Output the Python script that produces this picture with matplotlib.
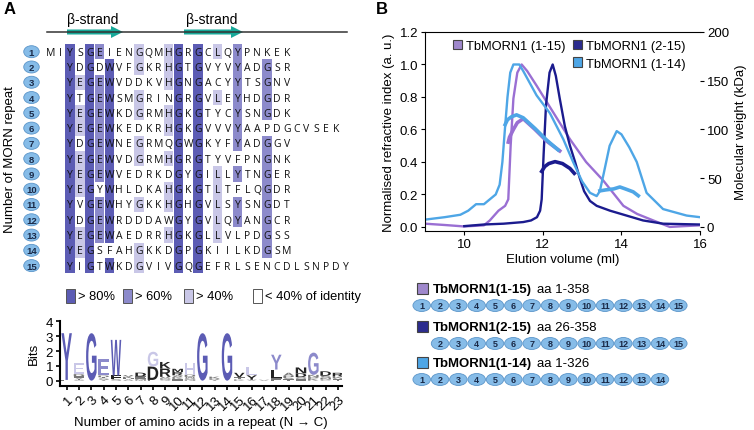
import matplotlib
matplotlib.use('Agg')
import matplotlib.pyplot as plt
from matplotlib.patches import Rectangle, Ellipse, FancyArrow, PathPatch, Patch
from matplotlib.textpath import TextPath
from matplotlib.font_manager import FontProperties
from matplotlib.transforms import Affine2D
from collections import Counter

plt.rcParams['font.family'] = ['Liberation Sans', 'DejaVu Sans']

# --- panel A: MORN repeats (column 1 = the conserved Y) ---
lead = ['MI'] + [''] * 14
repeats = ['YSGEIENGQMHGRGCLQYPNKEK',
           'YDGDWVFGKRHGTGVYVYADGSR',
           'YEGEWVDDKVHGNGACYYTSGNV',
           'YTGEWSMGRINGRGVLEYHDGDR',
           'YEGEWKDGRMHGKGTYCYSNGDK',
           'YEGEWKEDKRHGKGVVVYAAPDGCVSEK',
           'YDGEWNEGRMQGWGKYFYADGGV',
           'YEGEWVDGRMHGRGTYVFPNGNK',
           'YEGEWVEDRKDGYGILLYTNGER',
           'YEGYWHLDKAHGKGTLTFLQGDR',
           'YVGEWHYGKKHGHGVLSYSNGDT',
           'YDGEWRDDDAWGYGVLQYANGCR',
           'YEGEWAEDRRHGKGLLVLPDGSS',
           'YEGSFAHGKKDGPGKIILKDGSM',
           'YIGTWKDGVIVGQGEFRLSENCDLSNPDY']
n_cols = 23
id_levels = [0.8, 0.6, 0.4]
id_colors = ['#5c5cb4', '#8c8acb', '#c9c7e7']
id_labels = ['> 80%', '> 60%', '> 40%', '< 40% of identity']

# --- sequence logo (letters stacked bottom -> top, height in bits) ---
logo = [
    [('E', 0.05), ('Y', 3.15)],
    [('S', 0.06), ('T', 0.07), ('V', 0.08), ('I', 0.08), ('D', 0.15), ('E', 0.75)],
    [('G', 3.2)],
    [('Y', 0.07), ('S', 0.08), ('T', 0.08), ('D', 0.12), ('E', 1.1)],
    [('S', 0.1), ('F', 0.25), ('W', 2.4)],
    [('A', 0.08), ('H', 0.08), ('K', 0.1), ('V', 0.12)],
    [('M', 0.07), ('N', 0.07), ('E', 0.15), ('D', 0.25)],
    [('E', 0.05), ('D', 0.9), ('G', 1.0)],
    [('Q', 0.08), ('D', 0.08), ('V', 0.1), ('R', 0.55), ('K', 0.45)],
    [('I', 0.12), ('K', 0.12), ('A', 0.12), ('R', 0.22), ('M', 0.22)],
    [('N', 0.08), ('Q', 0.08), ('W', 0.1), ('D', 0.15), ('H', 0.75)],
    [('G', 3.2)],
    [('Y', 0.07), ('R', 0.08), ('K', 0.12)],
    [('G', 3.2)],
    [('K', 0.08), ('T', 0.15), ('V', 0.3)],
    [('V', 0.06), ('Y', 0.3), ('L', 0.55)],
    [('V', 0.06)],
    [('F', 0.15), ('L', 0.6), ('Y', 1.0)],
    [('T', 0.08), ('S', 0.1), ('P', 0.15), ('A', 0.2)],
    [('E', 0.08), ('Q', 0.08), ('S', 0.08), ('D', 0.25), ('N', 0.4)],
    [('K', 0.12), ('P', 0.12), ('N', 0.15), ('G', 1.5)],
    [('C', 0.08), ('N', 0.1), ('S', 0.15), ('D', 0.3)],
    [('T', 0.08), ('V', 0.08), ('K', 0.12), ('R', 0.25)],
]

# --- panel B: SEC-MALS traces ---
x_115 = [9.0, 9.5, 10.0, 10.5, 10.65, 10.87, 11.04, 11.12, 11.18, 11.25, 11.35, 11.46,
         11.6, 11.84, 12.2, 12.69, 13.1, 13.54, 14.05, 14.4, 14.81, 15.23, 15.6, 16.0]
ri_115 = [0.02, 0.012, 0.003, 0.01, 0.04, 0.1, 0.13, 0.17, 0.5, 0.79, 0.95, 1.0,
          0.96, 0.87, 0.73, 0.54, 0.4, 0.285, 0.13, 0.08, 0.04, 0.0, 0.005, 0.01]
mwx_115 = [11.12, 11.15, 11.25, 11.35, 11.5, 11.8, 12.1, 12.43]
mw_115 = [87, 92, 100, 107, 111, 100, 88, 78]

x_215 = [10.0, 10.5, 11.0, 11.5, 11.7, 11.85, 11.93, 11.97, 12.02, 12.08, 12.17, 12.25,
         12.33, 12.43, 12.56, 12.69, 12.82, 12.94, 13.05, 13.2, 13.37, 13.71, 14.13,
         14.55, 15.06, 16.0]
ri_215 = [0.005, 0.015, 0.02, 0.03, 0.04, 0.06, 0.1, 0.17, 0.45, 0.75, 0.95, 1.0,
          0.93, 0.79, 0.62, 0.5, 0.4, 0.3, 0.22, 0.16, 0.13, 0.1, 0.07,
          0.04, 0.02, 0.015]
mwx_215 = [11.97, 12.05, 12.15, 12.31, 12.5, 12.69, 12.8]
mw_215 = [57, 62, 65, 67, 65, 60, 55]

x_114 = [9.0, 9.5, 9.9, 10.1, 10.3, 10.5, 10.65, 10.8, 10.9, 10.97, 11.04, 11.1, 11.17,
         11.25, 11.4, 11.5, 11.84, 12.18, 12.52, 12.77, 13.0, 13.2, 13.37, 13.45, 13.55,
         13.7, 13.88, 14.0, 14.2, 14.39, 14.64, 15.06, 15.66, 16.0]
ri_114 = [0.045, 0.06, 0.075, 0.1, 0.14, 0.14, 0.17, 0.2, 0.26, 0.4, 0.62, 0.8, 0.95,
          1.0, 1.0, 0.96, 0.81, 0.7, 0.54, 0.4, 0.28, 0.21, 0.19, 0.22, 0.33,
          0.5, 0.59, 0.57, 0.49, 0.4, 0.21, 0.11, 0.07, 0.06]
mwx_114a = [11.04, 11.1, 11.2, 11.33, 11.5, 11.8, 12.1, 12.39]
mw_114a = [105, 110, 113, 115, 112, 101, 89, 79]
mwx_114b = [13.45, 13.6, 13.8, 13.96, 14.1, 14.3, 14.43]
mw_114b = [37, 38, 39, 41, 39, 36, 32]

constructs = ['TbMORN1(1-15)', 'TbMORN1(2-15)', 'TbMORN1(1-14)']
legend_names = ['TbMORN1 (1-15)', 'TbMORN1 (2-15)', 'TbMORN1 (1-14)']
aa_ranges = ['aa 1-358', 'aa 26-358', 'aa 1-326']
morn_first = [1, 2, 1]
morn_last = [15, 15, 14]
c_115, c_215, c_114 = '#9a6fd3', '#1b1b8e', '#4ea6e6'
swatch_cols = ['#9f88cc', '#2c2c8e', '#4ea6e6']

W, H = 754, 431
fig = plt.figure(figsize=(W / 100, H / 100), dpi=100)


def frac(l, t, r, b):
    return [l / W, 1 - b / H, (r - l) / W, (b - t) / H]


# ---------- SEC-MALS plot ----------
ax = fig.add_axes(frac(425, 33, 700, 232))
ax.plot(x_115, ri_115, color=c_115, lw=1.7)
ax.plot(x_215, ri_215, color=c_215, lw=1.7)
ax.plot(x_114, ri_114, color=c_114, lw=1.7)
ax.set_xlim(9, 16)
ax.set_ylim(-0.025, 1.2)
ax.set_xticks([10, 12, 14, 16])
ax.set_yticks([0, 0.2, 0.4, 0.6, 0.8, 1.0, 1.2])
ax.set_yticklabels(['%.1f' % v for v in [0, 0.2, 0.4, 0.6, 0.8, 1.0, 1.2]])
ax.tick_params(labelsize=9.5, length=3, width=0.8, pad=2)
ax.spines['right'].set_visible(False)
ax.set_xlabel('Elution volume (ml)', fontsize=9.5, labelpad=2)
ax.set_ylabel('Normalised refractive index (a. u.)', fontsize=9.5, labelpad=3)
ax2 = ax.twinx()
ax2.plot(mwx_115, mw_115, color=c_115, lw=2.6)
ax2.plot(mwx_215, mw_215, color=c_215, lw=2.6)
ax2.plot(mwx_114a, mw_114a, color=c_114, lw=2.6)
ax2.plot(mwx_114b, mw_114b, color=c_114, lw=2.6)
ax2.set_ylim(-0.025 * 200 / 1.2, 200)
ax2.set_yticks([0, 50, 100, 150, 200])
ax2.tick_params(labelsize=9.5, length=3, width=0.8, pad=2)
for s in ['right', 'left', 'top', 'bottom']:
    ax2.spines[s].set_visible(False)
ax2.set_ylabel('Molecular weight (kDa)', fontsize=9.5, labelpad=4)
hd = [Patch(facecolor=c, edgecolor='#444444', lw=0.8) for c in swatch_cols]
blank = Patch(facecolor='none', edgecolor='none')
ax.legend([hd[0], blank, hd[1], hd[2]], [legend_names[0], '', legend_names[1], legend_names[2]],
          ncol=2, frameon=False, fontsize=9.3, handlelength=0.7, handleheight=0.7,
          handletextpad=0.3, columnspacing=0.6, labelspacing=0.45,
          loc='upper right', bbox_to_anchor=(0.99, 1.02))

# ---------- sequence logo ----------
axl = fig.add_axes(frac(60, 321.6, 341.7, 387))
axl.set_xlim(0.46, 23.3)
axl.set_ylim(-0.36, 4.05)

# identity class per column, from the repeats
col_class = []
col_top = []
for c in range(n_cols):
    res = [r[c] for r in repeats]
    top, cnt = Counter(res).most_common(1)[0]
    f = cnt / len(repeats)
    k = next((i for i, lv in enumerate(id_levels) if f > lv), None)
    col_class.append(k)
    col_top.append(top)

fp = FontProperties(family='Liberation Sans', weight='bold')
for c, stack in enumerate(logo):
    y0 = 0.0
    for ch, h in stack:
        tp = TextPath((0, 0), ch, size=1, prop=fp)
        bb = tp.get_extents()
        w = 0.85
        tr = Affine2D().translate(-bb.x0, -bb.y0).scale(w / bb.width, h / bb.height).translate(c + 1 - w / 2, y0)
        k = col_class[c]
        col = id_colors[k] if (k is not None and ch == col_top[c]) else ('#222222' if h > 0.2 else '#777777')
        axl.add_patch(PathPatch(tr.transform_path(tp), facecolor=col, edgecolor='none'))
        y0 += h
axl.set_xticks(range(1, 24))
axl.set_xticklabels([str(i) for i in range(1, 24)], rotation=45, ha='right',
                    rotation_mode='anchor', fontsize=8.5)
axl.set_yticks([0, 1, 2, 3, 4])
axl.tick_params(labelsize=9.5, length=3, width=1.2, pad=2)
axl.spines['right'].set_visible(False)
axl.spines['top'].set_visible(False)
axl.spines['left'].set_linewidth(1.5)
axl.spines['bottom'].set_linewidth(1.5)
axl.set_ylabel('Bits', fontsize=9.5, labelpad=4)
axl.set_xlabel('Number of amino acids in a repeat (N \u2192 C)', fontsize=9.5, labelpad=3)

# ---------- overlay in pixel coordinates ----------
ov = fig.add_axes([0, 0, 1, 1], zorder=10)
ov.set_xlim(0, W)
ov.set_ylim(H, 0)
ov.axis('off')
ov.patch.set_alpha(0)

ov.text(4, 9, 'A', fontsize=12, fontweight='bold', va='center')
ov.text(376, 9, 'B', fontsize=12, fontweight='bold', va='center')

# secondary structure
ov.plot([47, 347], [33, 33], color='#333333', lw=1.1)
for x0, x1, cx in [(67, 123, 93), (184, 243, 212)]:
    ov.add_patch(FancyArrow(x0, 33, x1 - x0, 0, width=5, head_width=12, head_length=12,
                            length_includes_head=True, color='#17a898', lw=0))
    ov.text(cx, 20, '\u03b2-strand', fontsize=10, ha='center', va='center')

# alignment
x_c1, dx = 70, 9.85
y_r1, dy = 52.7, 15.28
for r, seq in enumerate(repeats):
    yc = y_r1 + r * dy
    for c in range(n_cols):
        k = col_class[c]
        if k is not None and seq[c] == col_top[c]:
            ov.add_patch(Rectangle((x_c1 + c * dx - 4.7, yc - dy / 2), 9.4, dy,
                                   facecolor=id_colors[k], edgecolor='none'))
    full = lead[r] + seq
    for i, ch in enumerate(full):
        ov.text(x_c1 + (i - len(lead[r])) * dx, yc + 0.5, ch, fontsize=7.5, ha='center',
                va='center', family='Open Sans', color='#111111')
    ov.add_patch(Ellipse((31.5, yc), 15.5, 12, facecolor='#86bce8', edgecolor='#5b95c9', lw=0.6))
    ov.text(31.5, yc + 0.5, str(r + 1), fontsize=6.8, fontweight='bold', ha='center',
            va='center', color='#1a2a48')
ov.text(10, 160, 'Number of MORN repeat', rotation=90, fontsize=9.5, ha='center', va='center')

# identity legend
lx = [66, 123, 184, 253]
for i, lab in enumerate(id_labels):
    fc = id_colors[i] if i < 3 else 'white'
    ov.add_patch(Rectangle((lx[i], 290), 9, 14, facecolor=fc, edgecolor='#555555', lw=0.7))
    ov.text(lx[i] + 12, 297.5, lab, fontsize=9.3, va='center')

# construct diagrams
row_y = [290, 328, 364]
step = 18.33
for j in range(3):
    ov.add_patch(Rectangle((416.5, row_y[j] - 6), 11, 11, facecolor=swatch_cols[j],
                           edgecolor='#444444', lw=0.8))
    ov.text(433, row_y[j], constructs[j], fontsize=9.5, fontweight='bold', va='center')
    ov.text(537, row_y[j], aa_ranges[j], fontsize=9.5, va='center')
    ey = row_y[j] + 16.5
    for m in range(morn_first[j], morn_last[j] + 1):
        ex = 421.7 + (m - 1) * step
        ov.add_patch(Ellipse((ex, ey), 17.5, 12, facecolor='#86bce8', edgecolor='#5b95c9', lw=0.6))
        ov.text(ex, ey + 0.5, str(m), fontsize=6.5, fontweight='bold', ha='center',
                va='center', color='#1a2a48')

fig.savefig('out.png', dpi=100)
